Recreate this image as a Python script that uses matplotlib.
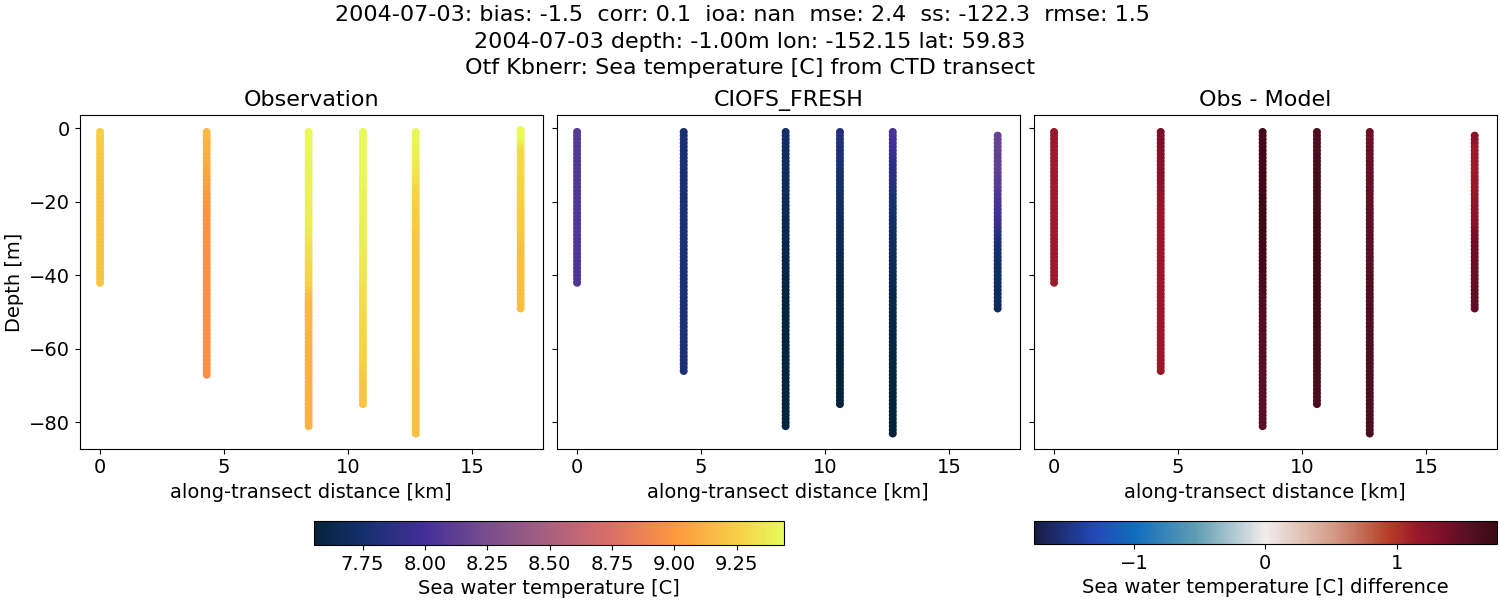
import numpy as np
import matplotlib
matplotlib.use("Agg")
import matplotlib.pyplot as plt
from matplotlib.colors import LinearSegmentedColormap, Normalize
from matplotlib.cm import ScalarMappable

distance_km = [0.0, 4.3, 8.41, 10.6, 12.73, 16.96]

# measured depths, metres, one sample per metre
obs_depth = [
    -np.arange(1, 43),
    -np.arange(1, 68),
    -np.arange(1, 82),
    -np.arange(1, 76),
    -np.arange(1, 84),
    np.r_[-0.5, -np.arange(1, 50)],
]
model_depth = [
    -np.arange(1, 43),
    -np.arange(1, 67),
    -np.arange(1, 82),
    -np.arange(1, 76),
    -np.arange(1, 84),
    -np.arange(2, 50),
]

obs_temp = [
    [9.25, 9.25, 9.24, 9.24, 9.23, 9.23, 9.22, 9.22, 9.22, 9.21,
     9.21, 9.21, 9.20, 9.20, 9.20, 9.20, 9.20, 9.20, 9.19, 9.19,
     9.19, 9.19, 9.19, 9.19, 9.19, 9.19, 9.19, 9.19, 9.19, 9.20,
     9.20, 9.20, 9.20, 9.20, 9.20, 9.20, 9.20, 9.20, 9.20, 9.20,
     9.20, 9.20],
    [9.16, 9.15, 9.14, 9.13, 9.12, 9.12, 9.11, 9.10, 9.09, 9.09,
     9.08, 9.08, 9.07, 9.06, 9.05, 9.04, 9.03, 9.02, 9.01, 9.00,
     9.00, 8.99, 8.99, 8.98, 8.98, 8.98, 8.97, 8.97, 8.97, 8.97,
     8.97, 8.97, 8.96, 8.96, 8.96, 8.96, 8.96, 8.96, 8.96, 8.96,
     8.96, 8.96, 8.96, 8.96, 8.96, 8.96, 8.96, 8.96, 8.96, 8.96,
     8.96, 8.96, 8.96, 8.96, 8.96, 8.96, 8.96, 8.96, 8.96, 8.96,
     8.96, 8.96, 8.96, 8.96, 8.96, 8.96, 8.96],
    [9.42, 9.42, 9.42, 9.42, 9.42, 9.42, 9.42, 9.41, 9.41, 9.41,
     9.41, 9.41, 9.41, 9.41, 9.40, 9.40, 9.40, 9.40, 9.40, 9.40,
     9.39, 9.39, 9.39, 9.39, 9.38, 9.38, 9.38, 9.37, 9.37, 9.36,
     9.35, 9.34, 9.33, 9.32, 9.31, 9.31, 9.30, 9.29, 9.28, 9.27,
     9.27, 9.26, 9.25, 9.23, 9.20, 9.17, 9.16, 9.15, 9.15, 9.15,
     9.14, 9.14, 9.14, 9.14, 9.14, 9.13, 9.13, 9.13, 9.13, 9.13,
     9.13, 9.13, 9.13, 9.12, 9.12, 9.12, 9.12, 9.12, 9.12, 9.12,
     9.12, 9.12, 9.12, 9.12, 9.12, 9.12, 9.12, 9.12, 9.12, 9.12,
     9.12],
    [9.43, 9.43, 9.43, 9.43, 9.43, 9.43, 9.43, 9.43, 9.43, 9.43,
     9.43, 9.43, 9.43, 9.42, 9.42, 9.42, 9.41, 9.41, 9.41, 9.40,
     9.40, 9.40, 9.40, 9.40, 9.39, 9.39, 9.39, 9.39, 9.38, 9.38,
     9.38, 9.38, 9.37, 9.37, 9.37, 9.36, 9.36, 9.36, 9.35, 9.35,
     9.34, 9.34, 9.33, 9.33, 9.32, 9.32, 9.31, 9.31, 9.30, 9.30,
     9.30, 9.29, 9.29, 9.29, 9.28, 9.28, 9.28, 9.27, 9.27, 9.27,
     9.26, 9.26, 9.25, 9.25, 9.24, 9.24, 9.23, 9.22, 9.22, 9.21,
     9.21, 9.20, 9.20, 9.20, 9.20],
    [9.42, 9.42, 9.42, 9.42, 9.41, 9.40, 9.39, 9.38, 9.37, 9.36,
     9.35, 9.34, 9.33, 9.32, 9.31, 9.29, 9.28, 9.27, 9.26, 9.25,
     9.24, 9.24, 9.23, 9.23, 9.22, 9.22, 9.22, 9.21, 9.21, 9.21,
     9.21, 9.21, 9.20, 9.20, 9.20, 9.20, 9.20, 9.20, 9.20, 9.20,
     9.20, 9.20, 9.20, 9.20, 9.20, 9.20, 9.20, 9.20, 9.20, 9.20,
     9.19, 9.19, 9.19, 9.19, 9.19, 9.19, 9.19, 9.19, 9.19, 9.19,
     9.19, 9.19, 9.19, 9.19, 9.19, 9.18, 9.18, 9.18, 9.18, 9.18,
     9.18, 9.18, 9.18, 9.18, 9.18, 9.18, 9.18, 9.18, 9.17, 9.17,
     9.17, 9.17, 9.17],
    [9.44, 9.44, 9.43, 9.42, 9.40, 9.34, 9.31, 9.30, 9.30, 9.29,
     9.29, 9.29, 9.28, 9.28, 9.28, 9.27, 9.27, 9.26, 9.26, 9.25,
     9.25, 9.24, 9.24, 9.23, 9.23, 9.23, 9.22, 9.22, 9.22, 9.21,
     9.21, 9.20, 9.18, 9.18, 9.18, 9.18, 9.18, 9.18, 9.18, 9.18,
     9.18, 9.18, 9.18, 9.18, 9.18, 9.18, 9.18, 9.18, 9.18, 9.18],
]

model_temp = [
    [8.08, 8.08, 8.08, 8.08, 8.08, 8.08, 8.08, 8.08, 8.07, 8.07,
     8.07, 8.07, 8.07, 8.07, 8.07, 8.07, 8.07, 8.07, 8.06, 8.06,
     8.06, 8.06, 8.06, 8.06, 8.06, 8.06, 8.06, 8.06, 8.06, 8.06,
     8.05, 8.05, 8.05, 8.05, 8.05, 8.05, 8.05, 8.05, 8.05, 8.05,
     8.05, 8.05],
    [7.79, 7.79, 7.79, 7.79, 7.79, 7.79, 7.79, 7.79, 7.79, 7.79,
     7.79, 7.79, 7.79, 7.79, 7.79, 7.79, 7.79, 7.79, 7.79, 7.79,
     7.80, 7.80, 7.80, 7.80, 7.80, 7.80, 7.80, 7.80, 7.80, 7.80,
     7.80, 7.80, 7.80, 7.80, 7.80, 7.80, 7.80, 7.80, 7.80, 7.80,
     7.80, 7.80, 7.80, 7.80, 7.80, 7.80, 7.80, 7.80, 7.80, 7.80,
     7.80, 7.80, 7.80, 7.80, 7.80, 7.80, 7.80, 7.80, 7.80, 7.80,
     7.80, 7.80, 7.80, 7.80, 7.80, 7.80],
    [7.73, 7.73, 7.73, 7.72, 7.72, 7.72, 7.71, 7.71, 7.71, 7.71,
     7.70, 7.70, 7.70, 7.70, 7.69, 7.69, 7.69, 7.69, 7.68, 7.68,
     7.67, 7.67, 7.67, 7.66, 7.66, 7.65, 7.65, 7.65, 7.64, 7.64,
     7.64, 7.63, 7.63, 7.62, 7.62, 7.62, 7.61, 7.61, 7.61, 7.60,
     7.60, 7.60, 7.60, 7.59, 7.59, 7.59, 7.59, 7.58, 7.58, 7.58,
     7.58, 7.58, 7.58, 7.58, 7.58, 7.58, 7.58, 7.58, 7.58, 7.58,
     7.58, 7.58, 7.58, 7.58, 7.58, 7.58, 7.58, 7.58, 7.58, 7.58,
     7.58, 7.58, 7.58, 7.58, 7.58, 7.58, 7.58, 7.58, 7.59, 7.59,
     7.59],
    [7.83, 7.83, 7.83, 7.82, 7.82, 7.81, 7.81, 7.80, 7.79, 7.78,
     7.78, 7.77, 7.76, 7.76, 7.75, 7.74, 7.74, 7.73, 7.72, 7.72,
     7.71, 7.71, 7.70, 7.70, 7.69, 7.69, 7.68, 7.68, 7.67, 7.67,
     7.66, 7.66, 7.65, 7.65, 7.64, 7.64, 7.63, 7.63, 7.62, 7.62,
     7.61, 7.61, 7.60, 7.60, 7.60, 7.60, 7.59, 7.59, 7.59, 7.59,
     7.58, 7.58, 7.58, 7.58, 7.58, 7.58, 7.58, 7.57, 7.57, 7.57,
     7.57, 7.57, 7.57, 7.57, 7.57, 7.57, 7.57, 7.57, 7.57, 7.57,
     7.57, 7.57, 7.57, 7.57, 7.57],
    [8.03, 8.02, 8.01, 8.00, 7.99, 7.97, 7.96, 7.94, 7.92, 7.90,
     7.89, 7.87, 7.86, 7.85, 7.83, 7.82, 7.81, 7.80, 7.79, 7.78,
     7.77, 7.76, 7.75, 7.74, 7.73, 7.72, 7.72, 7.71, 7.71, 7.70,
     7.70, 7.69, 7.69, 7.68, 7.68, 7.67, 7.67, 7.66, 7.66, 7.65,
     7.65, 7.64, 7.64, 7.63, 7.63, 7.62, 7.62, 7.62, 7.61, 7.61,
     7.60, 7.60, 7.60, 7.60, 7.59, 7.59, 7.59, 7.59, 7.58, 7.58,
     7.58, 7.58, 7.58, 7.58, 7.58, 7.57, 7.57, 7.57, 7.57, 7.57,
     7.57, 7.57, 7.57, 7.57, 7.57, 7.57, 7.56, 7.56, 7.56, 7.56,
     7.56, 7.56, 7.56],
    [8.16, 8.16, 8.16, 8.16, 8.16, 8.16, 8.15, 8.15, 8.15, 8.15,
     8.14, 8.13, 8.12, 8.11, 8.10, 8.08, 8.06, 8.05, 8.04, 8.02,
     8.01, 8.00, 7.98, 7.97, 7.95, 7.93, 7.90, 7.87, 7.84, 7.81,
     7.79, 7.77, 7.76, 7.75, 7.74, 7.73, 7.72, 7.72, 7.71, 7.71,
     7.70, 7.70, 7.70, 7.69, 7.69, 7.69, 7.68, 7.68],
]

temp_lim = (7.555, 9.44)
diff_lim = (-1.76, 1.76)
xticks = [0, 5, 10, 15]
yticks = [0, -20, -40, -60, -80]
colorbar_temp_ticks = [7.75, 8.00, 8.25, 8.50, 8.75, 9.00, 9.25]
colorbar_diff_ticks = [-1, 0, 1]

title = ("2004-07-03: bias: -1.5  corr: 0.1  ioa: nan  mse: 2.4  ss: -122.3  rmse: 1.5  \n"
         "2004-07-03 depth: -1.00m lon: -152.15 lat: 59.83\n"
         "Otf Kbnerr: Sea temperature [C] from CTD transect")

# hand picked stand-ins for cmocean thermal and balance
thermal = LinearSegmentedColormap.from_list("thermal", [
    (0.00, "#03233a"), (0.10, "#14306c"), (0.236, "#432f98"), (0.37, "#7a4e8e"),
    (0.50, "#a9607f"), (0.634, "#dc6f66"), (0.766, "#fd9741"), (0.90, "#f7cf45"),
    (1.00, "#e8fa5b")])
balance = LinearSegmentedColormap.from_list("balance", [
    (0.00, "#181c43"), (0.13, "#2448b8"), (0.215, "#0f6cbd"), (0.35, "#5f9db3"),
    (0.50, "#f1ecec"), (0.65, "#d39a84"), (0.77, "#b53c25"), (0.825, "#9c1a2b"),
    (0.88, "#7f1029"), (0.94, "#561024"), (1.00, "#3c0912")])

plt.rcParams["font.size"] = 14

temp_norm = Normalize(*temp_lim)
diff_norm = Normalize(*diff_lim)

fig = plt.figure(figsize=(15, 6), dpi=100)
W, H = 1500.0, 600.0


def add_box(left, top, right, bottom):
    return fig.add_axes([left / W, 1 - bottom / H, (right - left) / W, (bottom - top) / H])


ax_obs = add_box(80.0, 115.4, 542.5, 448.6)
ax_model = add_box(557.0, 115.4, 1019.5, 448.6)
ax_diff = add_box(1034.0, 115.4, 1496.5, 448.6)

marker = dict(s=33, linewidths=0)

for x, z, t in zip(distance_km, obs_depth, obs_temp):
    ax_obs.scatter(np.full(len(z), x), z, c=t, cmap=thermal, norm=temp_norm, **marker)

for x, z, t in zip(distance_km, model_depth, model_temp):
    ax_model.scatter(np.full(len(z), x), z, c=t, cmap=thermal, norm=temp_norm, **marker)

for x, oz, ot, mz, mt in zip(distance_km, obs_depth, obs_temp, model_depth, model_temp):
    shared = np.isin(oz, mz)
    diff = np.array(ot)[shared] - np.array(mt)
    ax_diff.scatter(np.full(len(mz), x), mz, c=diff, cmap=balance, norm=diff_norm, **marker)

panels = [(ax_obs, "Observation"), (ax_model, "CIOFS_FRESH"), (ax_diff, "Obs - Model")]
for ax, name in panels:
    ax.set_title(name, fontsize=16, pad=6.5)
    ax.set_xlabel("along-transect distance [km]")
    ax.set_xlim(-0.81, 17.84)
    ax.set_ylim(-87.1, 3.5)
    ax.set_xticks(xticks)
    ax.set_yticks(yticks)
ax_obs.set_ylabel("Depth [m]")
ax_model.set_yticklabels([])
ax_diff.set_yticklabels([])

cax_temp = add_box(314, 521, 784, 545)
cb = fig.colorbar(ScalarMappable(temp_norm, thermal), cax=cax_temp, orientation="horizontal")
cb.set_ticks(colorbar_temp_ticks)
cb.set_ticklabels(["%.2f" % v for v in colorbar_temp_ticks])
cb.set_label("Sea water temperature [C]")

cax_diff = add_box(1034, 521, 1496.5, 544)
cb = fig.colorbar(ScalarMappable(diff_norm, balance), cax=cax_diff, orientation="horizontal")
cb.set_ticks(colorbar_diff_ticks)
cb.set_label("Sea water temperature [C] difference")

fig.suptitle(title, fontsize=16, x=0.5, y=0.991, va="top", linespacing=1.39)

fig.savefig("out.png", dpi=100)
